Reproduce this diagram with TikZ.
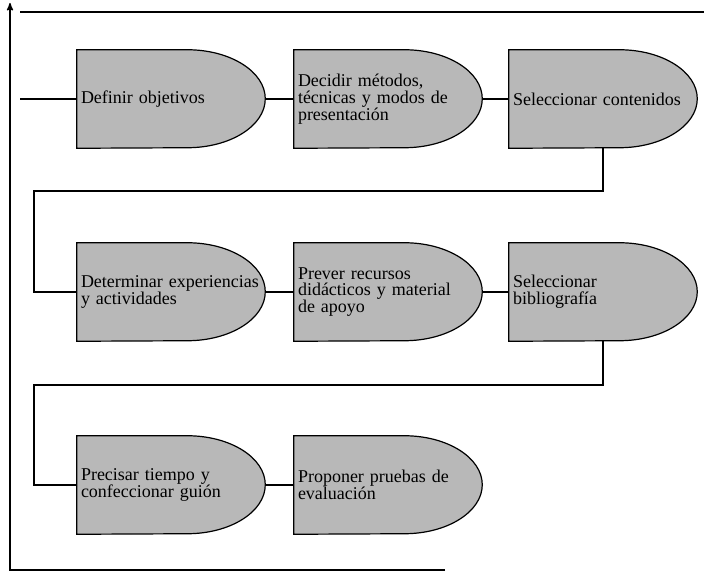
\documentclass[tikz,border=0pt]{standalone}
\usepackage{fontspec}
\setmainfont{Liberation Serif}
\usepackage{tikz}
\usetikzlibrary{arrows}
\usetikzlibrary{backgrounds}

\begin{document}
\begin{tikzpicture}[
    x=0.75pt, y=-0.75pt,
    axis/.style={->, >=stealth', line width=1pt},
    important line/.style={line width=0.9pt},
    stage/.style={text width=135pt, minimum height=73.5pt, inner xsep=3pt, inner ysep=0pt,
                  align=left, font=\fontsize{13.5}{12.5}\selectfont},
    stage shape/.style={draw, line width=0.9pt, fill=black!28}
    ]
   \useasboundingbox (0,0) rectangle (704,574);
   % stages
   \node[stage] (objetivos)    at (171,99)  {Definir objetivos};
   \node[stage] (metodos)      at (388,99)  {Decidir métodos,\\ técnicas y modos de\\ presentación};
   \node[stage] (contenidos)   at (603,99)  {Seleccionar contenidos};
   \node[stage] (experiencias) at (171,292) {Determinar experiencias\\ y actividades};
   \node[stage] (recursos)     at (388,292) {Prever recursos\\ didácticos y material\\ de apoyo};
   \node[stage] (bibliografia) at (603,292) {Seleccionar\\ bibliografía};
   \node[stage] (tiempo)       at (171,485) {Precisar tiempo y\\ confeccionar guión};
   \node[stage] (evaluacion)   at (388,485) {Proponer pruebas de\\ evaluación};
   % shapes behind the text
   \begin{scope}[on background layer]
   \foreach \n in {objetivos,metodos,contenidos,experiencias,recursos,bibliografia,tiempo,evaluacion}
     \draw[stage shape] (\n.north west) -- ([xshift=-58.5pt]\n.north east)
       arc[start angle=90, end angle=-90, x radius=58.5pt, y radius=36.75pt]
       -- (\n.south west) -- cycle;
   \end{scope}
   % turning points
   \coordinate (entrada) at (20,99);
   \coordinate (turn1) at (34,191);
   \coordinate (turn2) at (34,385);
   \coordinate (top left) at (20,12);
   \coordinate (top right) at (704,12);
   \coordinate (bottom left) at (10,570);
   \coordinate (bottom right) at (445,570);
   \coordinate (arrow top) at (10,3);
   % connectors
   \draw[important line] (entrada) -- (objetivos.west);
   \draw[important line] (objetivos.east) -- (metodos.west);
   \draw[important line] (metodos.east) -- (contenidos.west);
   \draw[important line] (contenidos.south) |- (turn1) |- (experiencias.west);
   \draw[important line] (experiencias.east) -- (recursos.west);
   \draw[important line] (recursos.east) -- (bibliografia.west);
   \draw[important line] (bibliografia.south) |- (turn2) |- (tiempo.west);
   \draw[important line] (tiempo.east) -- (evaluacion.west);
   % frame
   \draw[important line] (top left) -- (top right);
   \draw[axis] (bottom right) -- (bottom left) -- (arrow top);
\end{tikzpicture}
\end{document}
